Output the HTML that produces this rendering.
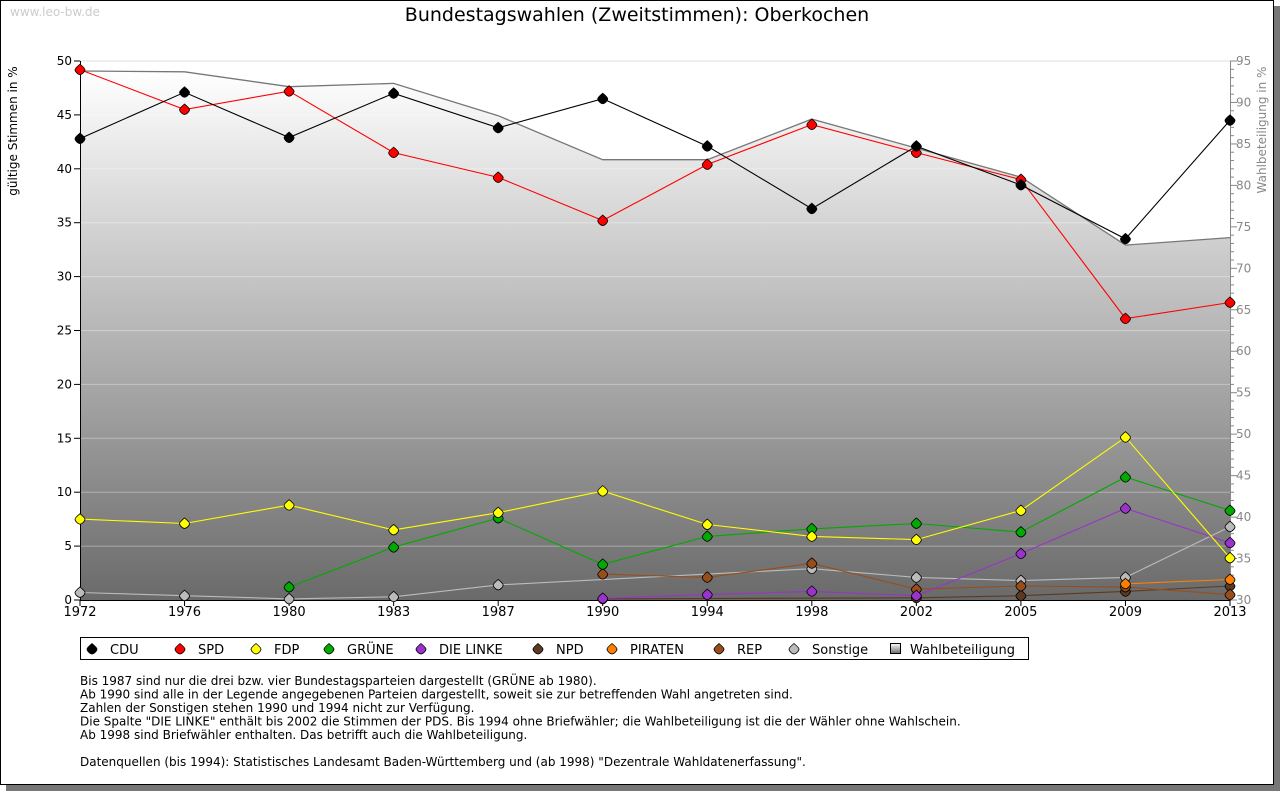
<!DOCTYPE html>
<html><head><meta charset="utf-8"><style>
body{margin:0;background:#fff;}
#w{position:relative;width:1280px;height:791px;overflow:hidden;font-family:"DejaVu Sans","Liberation Sans",sans-serif;}
</style></head><body><div id="w"><svg id="s" width="1280" height="791" xmlns="http://www.w3.org/2000/svg" font-family="DejaVu Sans, Liberation Sans, sans-serif"></svg></div>
<script>
var s=document.getElementById('s'),h='';
h+='<rect x="1273" y="6" width="7" height="785" fill="#777"/><rect x="6" y="784" width="1274" height="7" fill="#777"/>';
h+='<rect x="0.5" y="0.5" width="1273" height="784" fill="#fff" stroke="#000"/>';
h+='<defs><linearGradient id="g" x1="0" y1="0" x2="0" y2="1"><stop offset="0" stop-color="#fff"/><stop offset="1" stop-color="#6a6a6a"/></linearGradient></defs>';
h+='<text x="10" y="16" font-size="12" fill="#ccc">www.leo-bw.de</text>';
h+='<text x="637" y="21" font-size="19" text-anchor="middle">Bundestagswahlen (Zweitstimmen): Oberkochen</text>';
function X(i){return 80+i*1150/11}function Y(v){return 600-v*10.78}function YR(v){return 600-(v-30)*8.292}
var T=[93.8,93.7,91.9,92.3,88.4,83.1,83.1,88.0,84.5,81.0,72.8,73.7];
var p='M80,600';T.forEach(function(v,i){p+=' L'+X(i).toFixed(1)+','+YR(v).toFixed(1)});p+=' L1230,600Z';
h+='<path d="'+p+'" fill="url(#g)"/>';
for(var v=5;v<=50;v+=5)h+='<line x1="80" x2="1230" y1="'+Y(v)+'" y2="'+Y(v)+'" stroke="#fff" stroke-opacity="0.35"/>';
h+='<line x1="80" x2="1230" y1="61" y2="61" stroke="#ddd"/>';
h+='<polyline fill="none" stroke="#777" stroke-width="1.3" points="'+T.map(function(v,i){return X(i).toFixed(1)+','+YR(v).toFixed(1)}).join(' ')+'"/>';
h+='<line x1="80.5" y1="61" x2="80.5" y2="601" stroke="#000"/><line x1="80" y1="600.5" x2="1230" y2="600.5" stroke="#000"/>';
h+='<line x1="1230.5" y1="61" x2="1230.5" y2="601" stroke="#888"/>';
for(v=0;v<=50;v+=5){h+='<line x1="74" x2="80" y1="'+Y(v)+'" y2="'+Y(v)+'" stroke="#000"/><text x="72" y="'+(Y(v)+4)+'" font-size="12" text-anchor="end">'+v+'</text>';}
for(v=30;v<=95;v++){var L=v%5==0?7:4;h+='<line x1="1230" x2="'+(1230+L)+'" y1="'+YR(v)+'" y2="'+YR(v)+'" stroke="#888"/>';if(v%5==0)h+='<text x="1236" y="'+(YR(v)+4)+'" font-size="12" fill="#888">'+v+'</text>';}
var yrs=[1972,1976,1980,1983,1987,1990,1994,1998,2002,2005,2009,2013];
yrs.forEach(function(y,i){h+='<line x1="'+X(i)+'" x2="'+X(i)+'" y1="600" y2="606" stroke="#000"/><text x="'+X(i)+'" y="616" font-size="13" text-anchor="middle">'+y+'</text>'});
h+='<text transform="translate(17,131) rotate(-90)" font-size="12" text-anchor="middle">gültige Stimmen in %</text>';
h+='<text transform="translate(1266,130) rotate(-90)" font-size="12" text-anchor="middle" fill="#888">Wahlbeteiligung in %</text>';
var n=null;
var S=[
['#bbb',[0.7,0.4,0.1,0.3,1.4,n,n,2.9,2.1,1.8,2.1,6.8]],
['#5a3a22',[n,n,n,n,n,0.1,n,n,0.2,0.4,0.8,1.3]],
['#994d1a',[n,n,n,n,n,2.4,2.1,3.4,1.0,1.3,1.2,0.5]],
['#ff8000',[n,n,n,n,n,n,n,n,n,n,1.5,1.9]],
['#9933cc',[n,n,n,n,n,0.15,0.5,0.8,0.4,4.3,8.5,5.3]],
['#00aa00',[n,n,1.2,4.9,7.6,3.3,5.9,6.6,7.1,6.3,11.4,8.3]],
['#ffff00',[7.5,7.1,8.8,6.5,8.1,10.1,7.0,5.9,5.6,8.3,15.1,3.9]],
['#ff0000',[49.2,45.5,47.2,41.5,39.2,35.2,40.4,44.1,41.5,39.0,26.1,27.6]],
['#000',[42.8,47.1,42.9,47.0,43.8,46.5,42.1,36.3,42.1,38.5,33.5,44.5]]];
function M(x,y,c){return '<path d="M'+x+','+(y-5.5)+' C'+(x+3)+','+(y-3)+' '+(x+5)+','+(y-1)+' '+(x+5)+','+y+' C'+(x+5)+','+(y+2)+' '+(x+2)+','+(y+5)+' '+x+','+(y+5)+' C'+(x-2)+','+(y+5)+' '+(x-5)+','+(y+2)+' '+(x-5)+','+y+' C'+(x-5)+','+(y-1)+' '+(x-3)+','+(y-3)+' '+x+','+(y-5.5)+'Z" fill="'+c+'" stroke="#000" stroke-width="0.8"/>'}
S.forEach(function(sr){var pts=[];sr[1].forEach(function(v,i){if(v!==n)pts.push([X(i),Y(v)])});
h+='<polyline fill="none" stroke="'+sr[0]+'" stroke-width="1.1" points="'+pts.map(function(q){return q[0].toFixed(1)+','+q[1].toFixed(1)}).join(' ')+'"/>';
pts.forEach(function(q){h+=M(q[0],q[1],sr[0])})});
h+='<rect x="80.5" y="637.5" width="948" height="22" fill="#fff" stroke="#000"/>';
var lg=[['#000','CDU',92],['#ff0000','SPD',180],['#ffff00','FDP',256],['#00aa00','GRÜNE',329],['#9933cc','DIE LINKE',421],['#5a3a22','NPD',538],['#ff8000','PIRATEN',612],['#994d1a','REP',719],['#bbb','Sonstige',794]];
lg.forEach(function(l){h+=M(l[2],649,l[0])+'<text x="'+(l[2]+18)+'" y="654" font-size="13">'+l[1]+'</text>'});
h+='<rect x="890.5" y="643.5" width="10" height="10" fill="url(#g)" stroke="#000"/><text x="910" y="654" font-size="13">Wahlbeteiligung</text>';
var tx=['Bis 1987 sind nur die drei bzw. vier Bundestagsparteien dargestellt (GRÜNE ab 1980).','Ab 1990 sind alle in der Legende angegebenen Parteien dargestellt, soweit sie zur betreffenden Wahl angetreten sind.','Zahlen der Sonstigen stehen 1990 und 1994 nicht zur Verfügung.','Die Spalte "DIE LINKE" enthält bis 2002 die Stimmen der PDS. Bis 1994 ohne Briefwähler; die Wahlbeteiligung ist die der Wähler ohne Wahlschein.','Ab 1998 sind Briefwähler enthalten. Das betrifft auch die Wahlbeteiligung.','','Datenquellen (bis 1994): Statistisches Landesamt Baden-Württemberg und (ab 1998) "Dezentrale Wahldatenerfassung".'];
tx.forEach(function(t,i){h+='<text x="80" y="'+(685+i*13.5)+'" font-size="12">'+t+'</text>'});
s.innerHTML=h;
</script></body></html>
